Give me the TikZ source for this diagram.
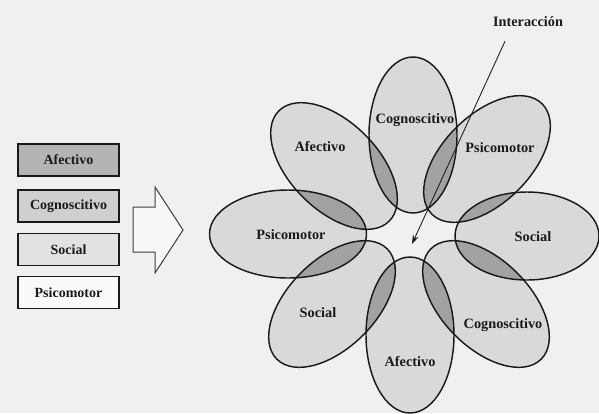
\documentclass[tikz,border=0pt]{standalone}
\usepackage{fontspec}
\setmainfont{Liberation Serif}
\usetikzlibrary{arrows.meta}

\definecolor{paper}{HTML}{F0F0F0}
\definecolor{petalfill}{HTML}{D9D9D9}
\definecolor{lensfill}{HTML}{A2A2A2}
\definecolor{inkline}{HTML}{1A1A1A}
\definecolor{boxA}{HTML}{B4B4B4}
\definecolor{boxB}{HTML}{CFCFCF}
\definecolor{boxC}{HTML}{E2E2E2}
\definecolor{boxD}{HTML}{FAFAFA}

\begin{document}
\begin{tikzpicture}[x=1pt,y=-1pt,
  lbl/.style={font=\bfseries\fontsize{14.3}{16}\selectfont, inner sep=0pt, text=inkline},
  outline/.style={draw=inkline, line width=1.45pt},
  dombox/.style={draw=inkline, line width=1.6pt, minimum width=101pt, minimum height=32pt,
                 inner sep=0pt, font=\bfseries\fontsize{14}{16}\selectfont, text=inkline}]

% page
\fill[paper] (0,0) rectangle (599,413);
\useasboundingbox (0,0) rectangle (599,413);

% the four domains
\node[dombox, fill=boxA] (afe) at (68.5,160) {Afectivo};
\node[dombox, fill=boxB] (cog) at (68.5,206) {Cognoscitivo};
\node[dombox, fill=boxC] (soc) at (68.5,249.5) {Social};
\node[dombox, fill=boxD] (psi) at (68.5,292.5) {Psicomotor};

% block arrow towards the flower
\draw[draw=inkline!85, line width=1pt, fill=white!50!paper]
  (133,207) -- (155,207) -- (155,187) -- (183,230) -- (155,273) -- (155,252) -- (133,252) -- cycle;

% petals: centre x / centre y / long radius / angle
\def\petals{413/135/78/90, 487/159/78/45, 527/236/72/0, 486/304/78/-45,
            410/335/78/90, 332/304/78/45, 288/234/78.5/0, 334/166/78/-45}

\foreach \x/\y/\r/\a in \petals
  \fill[petalfill] (\x,\y) ellipse [x radius=\r, y radius=44, rotate=\a];

% overlaps of neighbouring petals
\foreach \x/\y/\r/\a/\u/\v/\s/\b in {
    413/135/78/90/487/159/78/45,
    487/159/78/45/527/236/72/0,
    527/236/72/0/486/304/78/-45,
    486/304/78/-45/410/335/78/90,
    410/335/78/90/332/304/78/45,
    332/304/78/45/288/234/78.5/0,
    288/234/78.5/0/334/166/78/-45,
    334/166/78/-45/413/135/78/90}
{
  \begin{scope}
    \clip (\x,\y) ellipse [x radius=\r, y radius=44, rotate=\a];
    \fill[lensfill] (\u,\v) ellipse [x radius=\s, y radius=44, rotate=\b];
  \end{scope}
}

\foreach \x/\y/\r/\a in \petals
  \draw[outline] (\x,\y) ellipse [x radius=\r, y radius=44, rotate=\a];

% petal labels
\node[lbl] (p1) at (415,120) {Cognoscitivo};
\node[lbl] (p2) at (500,148) {Psicomotor};
\node[lbl] (p3) at (533,237) {Social};
\node[lbl] (p4) at (503,325) {Cognoscitivo};
\node[lbl] (p5) at (410,362) {Afectivo};
\node[lbl] (p6) at (318,313) {Social};
\node[lbl] (p7) at (291,235) {Psicomotor};
\node[lbl] (p8) at (320,147) {Afectivo};

% interaction pointer
\node[lbl] (inter) at (528,22) {Interacción};
\coordinate (hub) at (412,244);
\draw[draw=inkline, line width=0.85pt, -{Stealth[length=9pt,width=6pt]}]
  ([xshift=-23pt,yshift=-14pt]inter.south) -- (hub);

\end{tikzpicture}
\end{document}
